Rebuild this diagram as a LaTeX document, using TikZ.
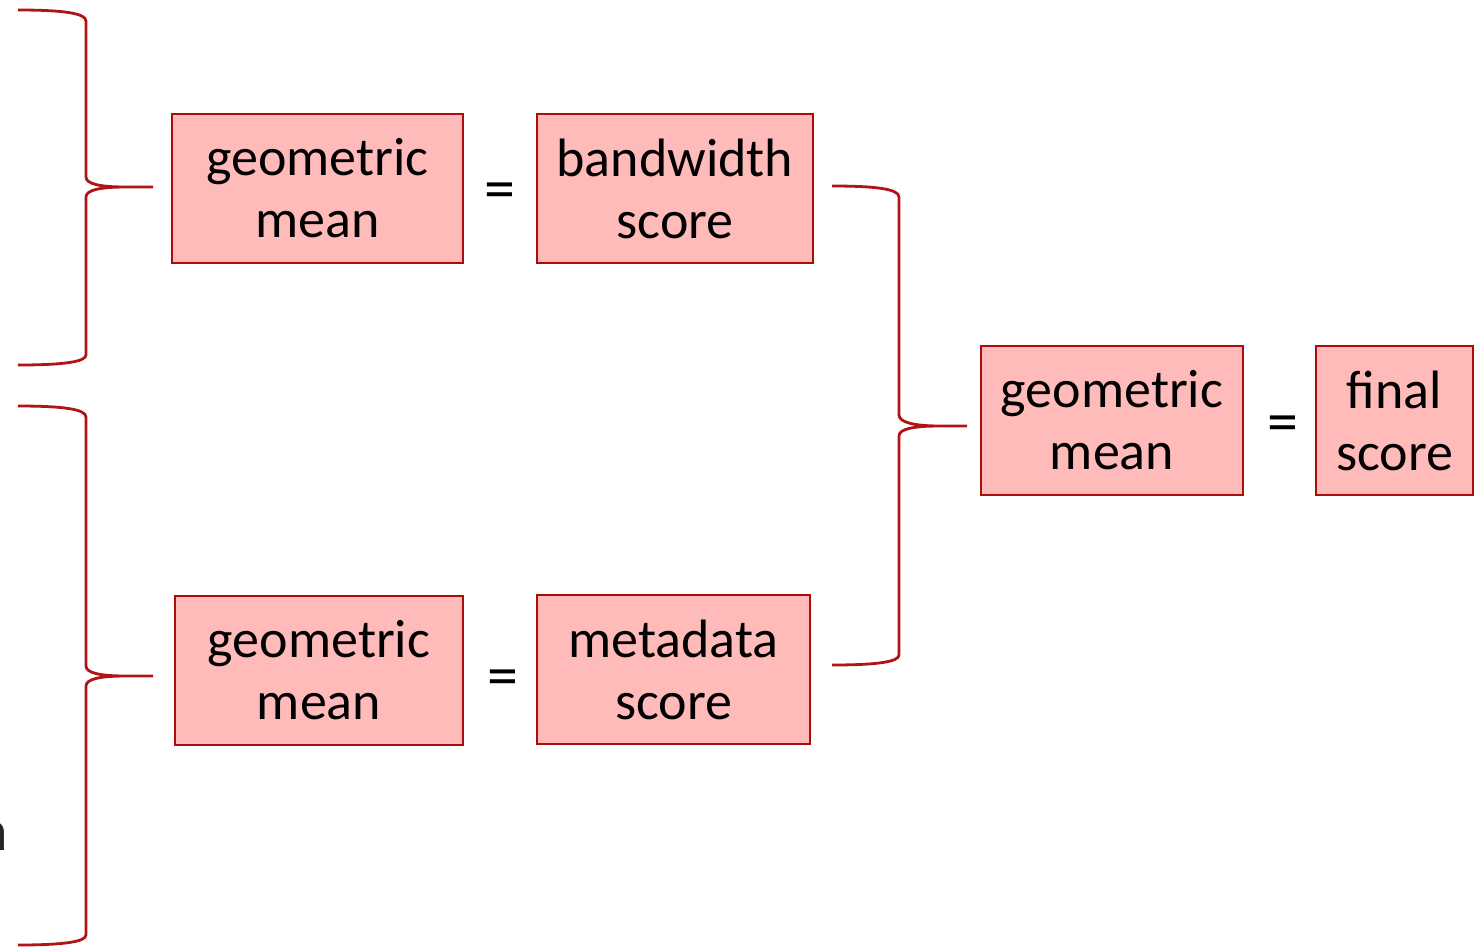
\documentclass[tikz,border=0pt]{standalone}
\usepackage{fontspec}
\setmainfont{Carlito}
\definecolor{boxfill}{RGB}{255,186,186}
\definecolor{boxline}{RGB}{172,12,12}
\definecolor{bracered}{RGB}{178,20,20}
\definecolor{inkgray}{RGB}{38,38,38}
\begin{document}
\begin{tikzpicture}[x=1pt,y=-1pt,
  scorebox/.style={draw=boxline,fill=boxfill,line width=2.8pt,inner sep=0pt,
    align=center,font=\fontsize{54}{62}\selectfont,minimum height=149pt},
  eqsign/.style={inner sep=0pt,font=\fontsize{62}{62}\selectfont},
  bracepath/.style={draw=bracered,line width=2.8pt,line join=round}]
\useasboundingbox (0,0) rectangle (1483,946);

% score boxes
\node[scorebox,minimum width=291pt] (gm1) at (317.5,188.5) {geometric\\mean};
\node[scorebox,minimum width=276pt] (bw)  at (675,188.5) {bandwidth\\score};
\node[scorebox,minimum width=288pt] (gm2) at (319,670.5) {geometric\\mean};
\node[scorebox,minimum width=273pt] (md)  at (673.5,669.5) {metadata\\score};
\node[scorebox,minimum width=262pt] (gm3) at (1112,420.5) {geometric\\mean};
\node[scorebox,minimum width=157pt] (fs)  at (1394.5,420.5) {final\\score};

% equals signs
\node[eqsign] (eq1) at (500,196) {=};
\node[eqsign] (eq2) at (503,683) {=};
\node[eqsign] (eq3) at (1283,429) {=};

% partially visible label at the left edge
\node[inner sep=0pt,anchor=base east,text=inkgray,font=\fontsize{58}{60}\selectfont] (cut) at (8,850) {n};

% tips of the braces
\coordinate (t1) at (153,187);
\coordinate (t2) at (153,676);
\coordinate (t3) at (967,426);

% brace grouping the first set of inputs
\path[bracepath] (18,10) .. controls (62,10) and (86,13) .. (86,21)
  -- (86,177) .. controls (86,184) and (100,187) .. (126,187) -- (t1)
  (126,187) .. controls (100,187) and (86,190) .. (86,197)
  -- (86,355) .. controls (86,362) and (62,365) .. (18,365);

% brace grouping the second set of inputs
\path[bracepath] (18,406) .. controls (62,406) and (86,409) .. (86,417)
  -- (86,666) .. controls (86,673) and (100,676) .. (126,676) -- (t2)
  (126,676) .. controls (100,676) and (86,679) .. (86,686)
  -- (86,935) .. controls (86,942) and (62,945) .. (18,945);

% brace combining the two scores
\path[bracepath] (832,186) .. controls (876,186) and (899,189) .. (899,197)
  -- (899,415) .. controls (899,422) and (913,426) .. (940,426) -- (t3)
  (940,426) .. controls (913,426) and (899,429) .. (899,436)
  -- (899,655) .. controls (899,662) and (876,665) .. (832,665);
\end{tikzpicture}
\end{document}
